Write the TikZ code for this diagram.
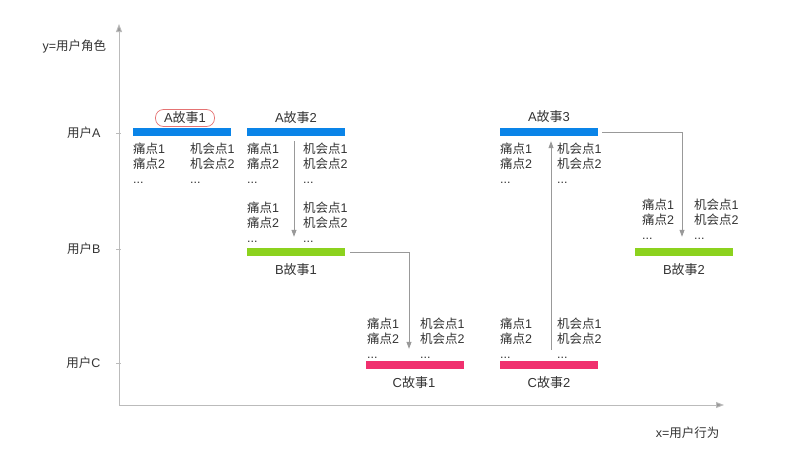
\documentclass[tikz,border=0pt]{standalone}
\usepackage{fontspec}
\setmainfont{Liberation Sans}
\newfontfamily\zhfont{Noto Sans CJK SC}
\newcommand\zh[1]{{\zhfont #1}}
\usetikzlibrary{arrows.meta}
\definecolor{txt}{HTML}{333333}
\definecolor{axisgray}{HTML}{BBBBBB}
\definecolor{arrgray}{HTML}{999999}
\definecolor{barA}{HTML}{0A84E8}
\definecolor{barB}{HTML}{8CD21E}
\definecolor{barC}{HTML}{F0306E}
\definecolor{ringred}{HTML}{E57373}
\newcommand\painL{\zh{痛点}1\\\zh{痛点}2\\...}
\newcommand\chanR{\zh{机会点}1\\\zh{机会点}2\\...}
\begin{document}
\begin{tikzpicture}[x=1pt,y=-1pt,
  every node/.style={text=txt,font=\fontsize{12.5}{15}\selectfont},
  bar/.style={rectangle,inner sep=0pt,minimum width=98pt,minimum height=8pt},
  col/.style={anchor=north west,inner sep=0pt,align=left},
  story/.style={inner sep=1pt,font=\fontsize{13}{15}\selectfont},
  axis/.style={draw=axisgray,line width=0.9pt,-{Triangle[length=8pt,width=6pt,fill=arrgray]}},
  flow/.style={draw=arrgray,line width=0.8pt,-{Triangle[length=7pt,width=5pt]},color=arrgray},
  tick/.style={draw=axisgray,line width=0.6pt}]
\useasboundingbox (0,0) rectangle (800,463);
% axes
\coordinate (o) at (119,405);
\coordinate (ytop) at (119,24);
\coordinate (xend) at (724,405);
\draw[axis] (o) -- (ytop);
\draw[axis] (o) -- (xend);
\node[anchor=west] (ylab) at (39,47) {y=\zh{用户角色}};
\node[anchor=east] (xlab) at (723,433) {x=\zh{用户行为}};
\node[anchor=east] (uA) at (104,133) {\zh{用户}A};
\node[anchor=east] (uB) at (104,249) {\zh{用户}B};
\node[anchor=east] (uC) at (104,363) {\zh{用户}C};
\coordinate (tA) at (116,133); \coordinate (tA2) at (121,133);
\coordinate (tB) at (116,249); \coordinate (tB2) at (121,249);
\coordinate (tC) at (116,363); \coordinate (tC2) at (121,363);
\draw[tick] (tA) -- (tA2);
\draw[tick] (tB) -- (tB2);
\draw[tick] (tC) -- (tC2);
% bars
\node[bar,fill=barA] (a1) at (182,132) {};
\node[bar,fill=barA] (a2) at (296,132) {};
\node[bar,fill=barA] (a3) at (549,132) {};
\node[bar,fill=barB] (b1) at (296,252) {};
\node[bar,fill=barB] (b2) at (684,252) {};
\node[bar,fill=barC] (c1) at (414.5,365) {};
\node[bar,fill=barC] (c2) at (549,365) {};
% story labels
\node[story,draw=ringred,line width=0.7pt,rounded corners=8pt,minimum width=59pt,minimum height=17pt] (la1) at (185,118) {A\zh{故事}1};
\node[story] (la2) at (296,118) {A\zh{故事}2};
\node[story] (la3) at (549,117) {A\zh{故事}3};
\node[story] (lb1) at (296,270) {B\zh{故事}1};
\node[story] (lb2) at (684,270) {B\zh{故事}2};
\node[story] (lc1) at (414,383) {C\zh{故事}1};
\node[story] (lc2) at (549,383) {C\zh{故事}2};
% text columns
\node[col] (a1p) at (133,143) {\painL};
\node[col] (a1o) at (190,143) {\chanR};
\node[col] (a2p) at (247,143) {\painL};
\node[col] (a2o) at (303,143) {\chanR};
\node[col] (a3p) at (500,143) {\painL};
\node[col] (a3o) at (557,143) {\chanR};
\node[col] (b1p) at (247,202) {\painL};
\node[col] (b1o) at (303,202) {\chanR};
\node[col] (b2p) at (642,199) {\painL};
\node[col] (b2o) at (694,199) {\chanR};
\node[col] (c1p) at (367,318) {\painL};
\node[col] (c1o) at (420,318) {\chanR};
\node[col] (c2p) at (500,318) {\painL};
\node[col] (c2o) at (557,318) {\chanR};
% flow arrows
\draw[flow] ([xshift=-2pt,yshift=-5pt]a2.south) -- ([xshift=-2pt,yshift=11pt]b1.north);
\draw[flow] ([xshift=5pt]b1.east) -| ([xshift=-5.5pt,yshift=12pt]c1.north);
\draw[flow] ([xshift=2pt,yshift=11pt]c2.north) -- ([xshift=2pt,yshift=-5pt]a3.south);
\draw[flow] ([xshift=4pt]a3.east) -| ([xshift=-2pt,yshift=11pt]b2.north);
\end{tikzpicture}
\end{document}
